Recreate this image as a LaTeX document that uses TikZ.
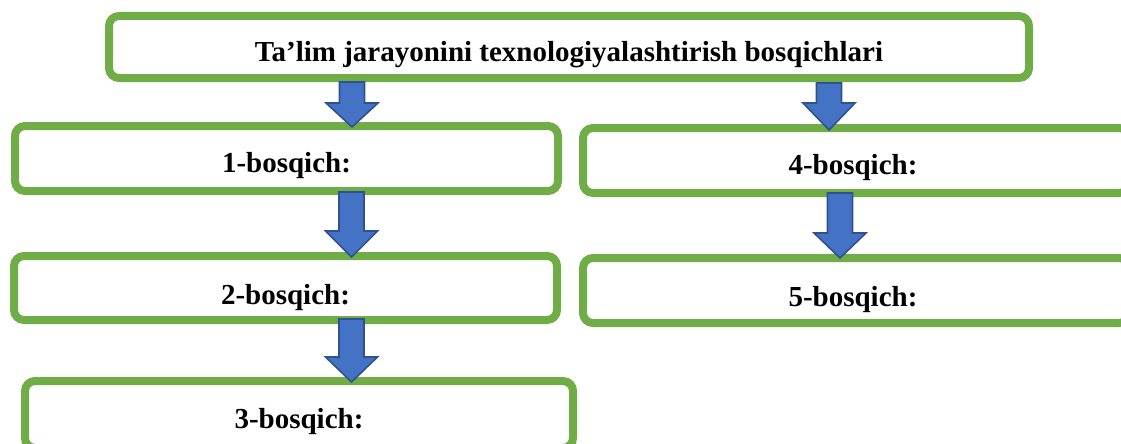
\documentclass[tikz,border=0pt]{standalone}
\usepackage{fontspec}
\setmainfont{Liberation Serif}
\begin{document}
\begin{tikzpicture}[x=1pt,y=-1pt,
  stagebox/.style={draw=boxgreen, line width=8pt, rounded corners=10pt, fill=white,
    inner sep=0pt, text height=28pt, text depth=0pt,
    font=\fontsize{29}{34}\selectfont\bfseries},
  lowtext/.style={text height=32pt},
  barrow/.style={fill=arrblue, draw=arrdark, line width=1.6pt, line join=miter}]
\definecolor{boxgreen}{HTML}{70AD47}
\definecolor{arrblue}{HTML}{4472C4}
\definecolor{arrdark}{HTML}{2F528F}
\useasboundingbox (0,0) rectangle (1121,444);
\clip (0,0) rectangle (1121,444);
% boxes
\node[stagebox, minimum width=920pt, minimum height=62pt] (t) at (569,47)
  {Ta’lim jarayonini texnologiyalashtirish bosqichlari};
\node[stagebox, minimum width=543pt, minimum height=65pt] (b1) at (286.5,158.5) {1-bosqich:};
\node[stagebox, lowtext, minimum width=543pt, minimum height=64pt] (b2) at (285.5,288) {2-bosqich:};
\node[stagebox, minimum width=548pt, minimum height=67pt] (b3) at (299,414.5) {3-bosqich:};
\node[stagebox, minimum width=546pt, minimum height=65pt] (b4) at (856,160.5) {\hspace*{-6pt}4-bosqich:};
\node[stagebox, lowtext, minimum width=546pt, minimum height=65pt] (b5) at (856,290.5) {\hspace*{-6pt}5-bosqich:};
% block arrows: x, top, head base, tip
\newcommand\blockarr[4]{%
  \filldraw[barrow] (#1-12.5,#2) -- (#1+12.5,#2) -- (#1+12.5,#3) -- (#1+26,#3)
    -- (#1,#4) -- (#1-26,#3) -- (#1-12.5,#3) -- cycle;}
\blockarr{352}{82}{103}{127}
\blockarr{829}{83}{103}{130}
\blockarr{351.5}{192}{231}{257}
\blockarr{351.5}{319}{357}{382}
\blockarr{840}{193}{233}{258}
\end{tikzpicture}
\end{document}
